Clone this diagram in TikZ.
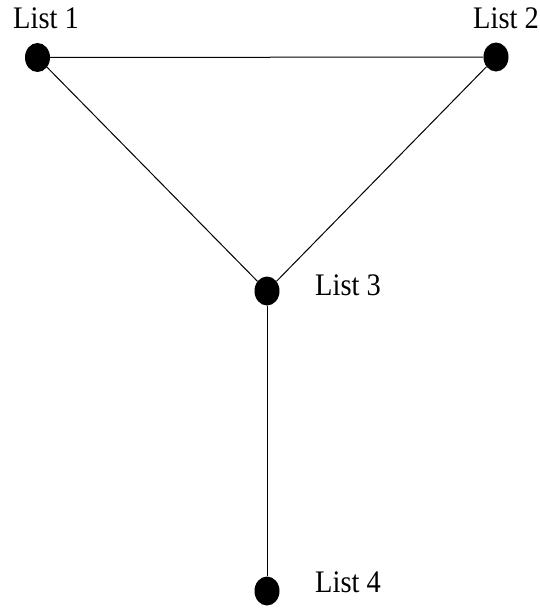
\documentclass[tikz,border=0pt]{standalone}
\usepackage{fontspec}
\usepackage{graphicx}
\setmainfont{Liberation Serif}
\usetikzlibrary{shapes.geometric}
\newcommand{\tallt}[1]{\scalebox{1}[1.1]{#1}}
\begin{document}
\begin{tikzpicture}[x=1pt,y=-1pt,
  dot/.style={ellipse,fill=black,inner sep=0pt,minimum width=25pt,minimum height=29pt},
  lbl/.style={anchor=base west,inner sep=0pt,font=\fontsize{28.5}{34}\selectfont},
  edge/.style={line width=1pt}]
\useasboundingbox (0,0) rectangle (539,611);
\node[dot] (l1) at (37.5,57.5) {};
\node[dot] (l2) at (496,57) {};
\node[dot] (l3) at (267,291) {};
\node[dot] (l4) at (267,591) {};
\node[lbl] (t1) at (13,28) {\tallt{List 1}};
\node[lbl] (t2) at (473,28) {\tallt{List 2}};
\node[lbl] (t3) at (315,295) {\tallt{List 3}};
\node[lbl] (t4) at (315,592) {\tallt{List 4}};
\draw[edge] (l1) -- (l2);
\draw[edge] (l1) -- (l3);
\draw[edge] (l2) -- (l3);
\draw[edge] (l3) -- (l4);
\end{tikzpicture}
\end{document}
